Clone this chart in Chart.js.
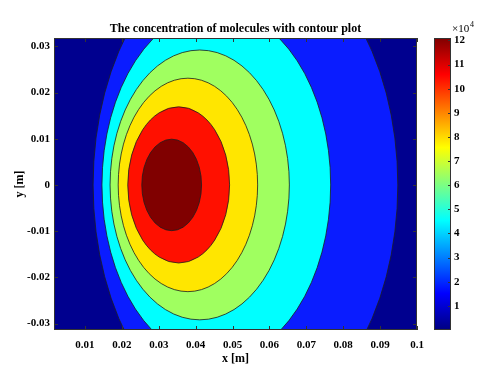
<!DOCTYPE html>
<html>
<head>
<meta charset="utf-8">
<script src="https://cdn.jsdelivr.net/npm/chart.js@4.4.1/dist/chart.umd.min.js"></script>
<style>
  html, body { margin: 0; padding: 0; background: #fff; }
  #wrap { width: 480px; height: 370px; }
</style>
</head>
<body>
<div id="wrap"><canvas id="contour-chart" width="480" height="370"></canvas></div>
<script>
// contour levels (x 10^4) and the band colour filled above each level
const levels = [0, 2, 4, 6, 8, 10, 12];
const bandColors = ['#00008f', '#0a1cff', '#00ffff', '#a0ff60', '#ffe600', '#ff1000', '#800000'];

const contourCenterX = [0.0535, 0.0456, 0.0411, 0.0379, 0.0354, 0.0335];
const contourCenterY = [0, 0, 0, 0, 0, 0];
const contourHalfX = [0.0413, 0.0310, 0.0243, 0.0189, 0.0138, 0.0081];
const contourHalfY = [0.0520, 0.0380, 0.0292, 0.0231, 0.0169, 0.0099];

const xRange = [0.0016, 0.1];
const yRange = [-0.0314, 0.0318];
const cbRange = [0, 12.1];
const xTicks = [0.01, 0.02, 0.03, 0.04, 0.05, 0.06, 0.07, 0.08, 0.09, 0.1];
const yTicks = [-0.03, -0.02, -0.01, 0, 0.01, 0.02, 0.03];
const cbTicks = [1, 2, 3, 4, 5, 6, 7, 8, 9, 10, 11, 12];

const serif = "'Liberation Serif', 'Times New Roman', serif";
const tickFont = { family: serif, size: 11, weight: 'bold' };
const titleFont = { family: serif, size: 12, weight: 'bold' };

// jet colormap stops for the colour bar
const jet = [[0, '#000080'], [0.125, '#0000ff'], [0.375, '#00ffff'], [0.625, '#ffff00'], [0.875, '#ff0000'], [1, '#800000']];

const contourPlugin = {
    id: 'contour',
    beforeDatasetsDraw(chart) {
        const { ctx, chartArea: a, scales: { x, y } } = chart;
        ctx.save();
        ctx.beginPath();
        ctx.rect(a.left, a.top, a.right - a.left, a.bottom - a.top);
        ctx.clip();
        ctx.fillStyle = bandColors[0];
        ctx.fillRect(a.left, a.top, a.right - a.left, a.bottom - a.top);
        for (let i = 0; i < contourCenterX.length; i++) {
            const cx = x.getPixelForValue(contourCenterX[i]);
            const cy = y.getPixelForValue(contourCenterY[i]);
            const rx = x.getPixelForValue(contourCenterX[i] + contourHalfX[i]) - cx;
            const ry = cy - y.getPixelForValue(contourCenterY[i] + contourHalfY[i]);
            ctx.beginPath();
            ctx.ellipse(cx, cy, rx, ry, 0, 0, Math.PI * 2);
            ctx.fillStyle = bandColors[i + 1];
            ctx.fill();
            ctx.strokeStyle = 'rgba(30,30,30,0.8)';
            ctx.lineWidth = 1;
            ctx.stroke();
        }
        ctx.restore();
    },
    afterDraw(chart) {
        const { ctx, chartArea: a, scales: { x, y, cb } } = chart;
        ctx.save();
        ctx.strokeStyle = '#333';
        ctx.lineWidth = 1;
        // box + inward ticks
        ctx.strokeRect(a.left + 0.5, a.top + 0.5, a.right - a.left - 1, a.bottom - a.top - 1);
        ctx.beginPath();
        xTicks.forEach(v => {
            const px = Math.round(x.getPixelForValue(v)) + 0.5;
            ctx.moveTo(px, a.bottom); ctx.lineTo(px, a.bottom - 4);
            ctx.moveTo(px, a.top); ctx.lineTo(px, a.top + 4);
        });
        yTicks.forEach(v => {
            const py = Math.round(y.getPixelForValue(v)) + 0.5;
            ctx.moveTo(a.left, py); ctx.lineTo(a.left + 4, py);
            ctx.moveTo(a.right, py); ctx.lineTo(a.right - 4, py);
        });
        ctx.stroke();

        // colour bar
        const bx = cb.left + 17, bw = 17;
        const top = cb.getPixelForValue(cbRange[1]), bottom = cb.getPixelForValue(cbRange[0]);
        const grad = ctx.createLinearGradient(0, bottom, 0, top);
        jet.forEach(s => grad.addColorStop(s[0], s[1]));
        ctx.fillStyle = grad;
        ctx.fillRect(bx, top, bw, bottom - top);
        ctx.strokeRect(bx + 0.5, top + 0.5, bw - 1, bottom - top - 1);
        ctx.beginPath();
        cbTicks.forEach(v => {
            const py = Math.round(cb.getPixelForValue(v)) + 0.5;
            ctx.moveTo(bx + bw, py); ctx.lineTo(bx + bw - 3, py);
        });
        ctx.stroke();

        // x10^4 multiplier
        ctx.fillStyle = '#000';
        ctx.textBaseline = 'alphabetic';
        ctx.textAlign = 'left';
        ctx.font = "11px " + serif;
        ctx.fillText('\u00d710', bx + 18, top - 6);
        ctx.font = "8px " + serif;
        ctx.fillText('4', bx + 36, top - 11);
        ctx.restore();
    }
};

new Chart(document.getElementById('contour-chart'), {
    type: 'scatter',
    data: { datasets: [] },
    options: {
        responsive: false,
        animation: false,
        layout: { padding: 0 },
        plugins: {
            legend: { display: false },
            tooltip: { enabled: false },
            title: {
                display: true,
                text: 'The concentration of molecules with contour plot',
                fullSize: false,
                color: '#000',
                font: titleFont,
                padding: { top: 22, bottom: 1.6 }
            }
        },
        scales: {
            x: {
                type: 'linear',
                position: 'bottom',
                min: xRange[0],
                max: xRange[1],
                grid: { display: false, drawTicks: false },
                border: { display: false },
                ticks: { font: tickFont, color: '#000', padding: 9, maxRotation: 0, autoSkip: false, callback: v => String(v) },
                afterBuildTicks: s => { s.ticks = xTicks.map(v => ({ value: v })); },
                afterFit: s => { s.height = 40; },
                title: { display: true, text: 'x [m]', color: '#000', font: titleFont, padding: { top: 0, bottom: 4 } }
            },
            y: {
                type: 'linear',
                position: 'left',
                min: yRange[0],
                max: yRange[1],
                grid: { display: false, drawTicks: false },
                border: { display: false },
                ticks: { font: tickFont, color: '#000', padding: 4, autoSkip: false, callback: v => String(v) },
                afterBuildTicks: s => { s.ticks = yTicks.map(v => ({ value: v })); },
                afterFit: s => { s.width = 54; },
                title: { display: true, text: 'y [m]', color: '#000', font: titleFont, padding: { top: 13, bottom: 0 } }
            },
            cb: {
                type: 'linear',
                position: 'right',
                min: cbRange[0],
                max: cbRange[1],
                grid: { display: false, drawTicks: false },
                border: { display: false },
                ticks: { font: tickFont, color: '#000', padding: 37, autoSkip: false, callback: v => String(v) },
                afterBuildTicks: s => { s.ticks = cbTicks.map(v => ({ value: v })); },
                // the big label offset must not push the plot area inwards
                afterFit: s => { s.width = 63; s.paddingTop = 0; s.paddingBottom = 0; }
            }
        }
    },
    plugins: [contourPlugin]
});
</script>
</body>
</html>
